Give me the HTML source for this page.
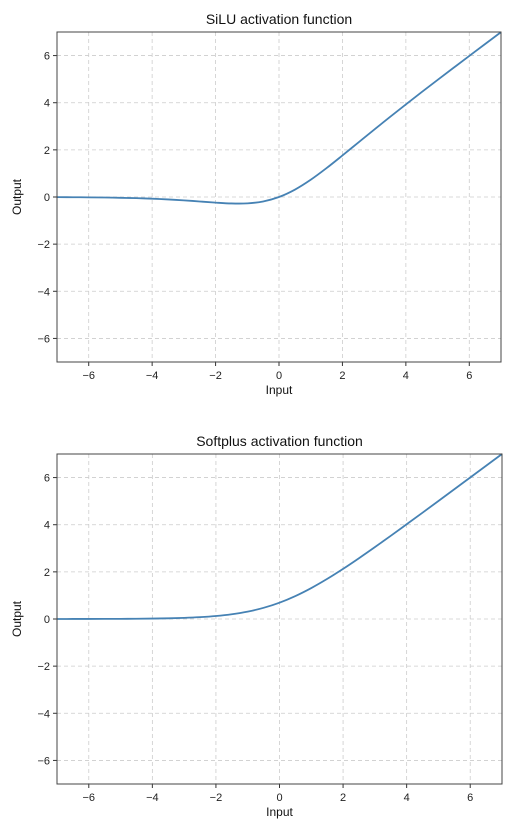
<!DOCTYPE html>
<html><head><meta charset="utf-8"><style>
body{margin:0;background:#fff;font-family:"Liberation Sans","DejaVu Sans",sans-serif}
</style></head><body>
<svg id="chart" width="524" height="833" xmlns="http://www.w3.org/2000/svg"></svg>
<script>
const xValues=[-7,-6.5,-6,-5.5,-5,-4.5,-4,-3.5,-3,-2.5,-2,-1.5,-1,-0.5,0,0.5,1,1.5,2,2.5,3,3.5,4,4.5,5,5.5,6,6.5,7];
const siluValues=[-0.0064,-0.0098,-0.0148,-0.0224,-0.0335,-0.0493,-0.0719,-0.1033,-0.142,-0.1896,-0.238,-0.2736,-0.269,-0.1888,0,0.3112,0.731,1.2264,1.762,2.3104,2.857,3.3967,3.928,4.4507,4.967,5.4776,5.985,6.4902,6.994];
const softplusValues=[0.0009,0.0015,0.0025,0.0041,0.0067,0.011,0.0181,0.0298,0.0486,0.0789,0.1269,0.2014,0.3133,0.4741,0.6931,0.9741,1.3133,1.7014,2.1269,2.5789,3.0486,3.5298,4.0181,4.511,5.0067,5.5041,6.0025,6.5015,7.0009];
const tickValues=[-6,-4,-2,0,2,4,6];
const titles=["SiLU activation function","Softplus activation function"];
const NS="http://www.w3.org/2000/svg";
const svg=document.getElementById('chart');
function mk(tag,attrs,parent){const e=document.createElementNS(NS,tag);for(const k in attrs)e.setAttribute(k,attrs[k]);(parent||svg).appendChild(e);return e;}
function smoothPath(pts){
  let d='M'+pts[0][0].toFixed(2)+','+pts[0][1].toFixed(2);
  for(let i=0;i<pts.length-1;i++){
    const p0=pts[Math.max(0,i-1)],p1=pts[i],p2=pts[i+1],p3=pts[Math.min(pts.length-1,i+2)];
    const c1=[p1[0]+(p2[0]-p0[0])/6,p1[1]+(p2[1]-p0[1])/6];
    const c2=[p2[0]-(p3[0]-p1[0])/6,p2[1]-(p3[1]-p1[1])/6];
    d+='C'+c1[0].toFixed(2)+','+c1[1].toFixed(2)+' '+c2[0].toFixed(2)+','+c2[1].toFixed(2)+' '+p2[0].toFixed(2)+','+p2[1].toFixed(2);
  }
  return d;
}
function panel(top,right,series,title,idx){
  const L=57,R=right,T=top,B=top+330;
  const sx=v=>L+(v+7)/14*(R-L), sy=v=>B-(v+7)/14*(B-T);
  const g=mk('g',{});
  
  
  tickValues.forEach(t=>{
    const gx=mk('line',{x1:sx(t),x2:sx(t),y1:T,y2:B,stroke:'#ccc','stroke-dasharray':'4,3','stroke-width':0.8},g);
    
    const gy=mk('line',{x1:L,x2:R,y1:sy(t),y2:sy(t),stroke:'#ccc','stroke-dasharray':'4,3','stroke-width':0.8},g);
    
    mk('line',{x1:sx(t),x2:sx(t),y1:B,y2:B+4,stroke:'#333'},g);
    mk('line',{x1:L-4,x2:L,y1:sy(t),y2:sy(t),stroke:'#333'},g);
    const xt=mk('text',{x:sx(t),y:B+17,'text-anchor':'middle','font-size':11,fill:'#222'},g);
    xt.textContent=(t<0?'−':'')+Math.abs(t);
    
    const yt=mk('text',{x:L-7,y:sy(t)+4,'text-anchor':'end','font-size':11,fill:'#222'},g);
    yt.textContent=(t<0?'−':'')+Math.abs(t);
    
  });
  const pts=xValues.map((x,i)=>[sx(x),sy(series[i])]);
  const p=mk('path',{d:smoothPath(pts),fill:'none',stroke:'#4682b4','stroke-width':1.8},g);
  
  const fr=mk('rect',{x:L,y:T,width:R-L,height:B-T,fill:'none',stroke:'#444','stroke-width':1},g);
  
  const tt=mk('text',{x:(L+R)/2,y:T-8,'text-anchor':'middle','font-size':14,fill:'#111'},g);
  tt.textContent=title;
  const xl=mk('text',{x:(L+R)/2,y:B+32,'text-anchor':'middle','font-size':12,fill:'#111'},g);
  xl.textContent='Input';
  const yl=mk('text',{x:0,y:0,'text-anchor':'middle','font-size':12,fill:'#111',transform:`translate(21,${(T+B)/2}) rotate(-90)`},g);
  yl.textContent='Output';
}
panel(32,501,siluValues,titles[0],0);
panel(454,502,softplusValues,titles[1],1);
</script>
</body></html>
